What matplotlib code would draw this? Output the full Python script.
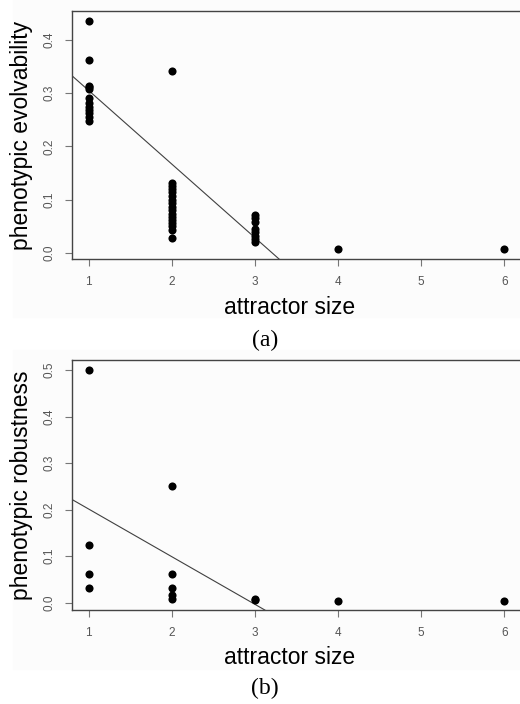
import matplotlib
matplotlib.use("Agg")
import matplotlib.pyplot as plt
from matplotlib.patches import Rectangle

# ----- data ------------------------------------------------------------------
# (a) phenotypic evolvability vs attractor size
evo_x = [1] * 12 + [2] * 17 + [3] * 8 + [4, 6]
evo_y = [0.435, 0.363, 0.314, 0.311, 0.307, 0.291, 0.281, 0.274, 0.268, 0.262, 0.255, 0.248,
         0.342, 0.132, 0.126, 0.120, 0.114, 0.108, 0.100, 0.094, 0.087, 0.080, 0.074, 0.068,
         0.062, 0.056, 0.050, 0.044, 0.028,
         0.072, 0.066, 0.058, 0.045, 0.039, 0.032, 0.026, 0.020,
         0.007, 0.007]
evo_fit = (0.443, -0.138)   # intercept, slope

# (b) phenotypic robustness vs attractor size
rob_x = [1, 1, 1, 1, 2, 2, 2, 2, 2, 3, 3, 4, 6]
rob_y = [0.5, 0.125, 0.0625, 0.03125,
         0.25, 0.0625, 0.03125, 0.015625, 0.0078125,
         0.0078125, 0.0060, 0.0039, 0.0039]
rob_fit = (0.304, -0.1025)

x_ticks = [1, 2, 3, 4, 5, 6]
evo_ticks = [0.0, 0.1, 0.2, 0.3, 0.4]
rob_ticks = [0.0, 0.1, 0.2, 0.3, 0.4, 0.5]

W, H = 520, 704
SANS = ["Liberation Sans", "Arial", "DejaVu Sans"]
SERIF = ["Liberation Serif", "Times New Roman", "DejaVu Serif"]
TICK_C = "#555555"
BOX_C = "#444444"

fig = plt.figure(figsize=(W / 100, H / 100), dpi=100, facecolor="white")

# faint grey backdrop of each pasted R image
for (y0, y1) in [(0, 317), (350, 669)]:
    fig.patches.append(Rectangle((13 / W, 1 - y1 / H), (W - 13) / W, (y1 - y0) / H,
                                 transform=fig.transFigure, color="#FCFCFC", zorder=-5))


def panel(top_px, bot_px, xs, ys, fit, yticks, ylim, ylabel, tag, lab_px, tag_px):
    ax = fig.add_axes([72 / W, 1 - bot_px / H, (521 - 72) / W, (bot_px - top_px) / H])
    ax.set_facecolor("none")
    ax.scatter(xs, ys, s=34, color="black", zorder=3, linewidths=0)
    b0, b1 = fit
    ax.axline((0, b0), slope=b1, color="#404040", lw=0.8, zorder=2)
    ax.set_xlim(0.8, 6.2)
    ax.set_ylim(*ylim)
    ax.set_xticks(x_ticks)
    ax.set_xticklabels([str(t) for t in x_ticks], fontsize=8.5, color=TICK_C, family=SANS)
    ax.set_yticks(yticks)
    ax.set_yticklabels([f"{t:.1f}" for t in yticks], fontsize=8.5, color=TICK_C,
                       family=SANS, rotation=90, va="center")
    ax.tick_params(axis="both", length=5, width=0.8, color="#777777", pad=7)
    ax.spines["right"].set_visible(False)
    for s in ("left", "bottom", "top"):
        ax.spines[s].set_color(BOX_C)
        ax.spines[s].set_linewidth(1.0)
    fig.text(22 / W, 1 - (top_px + bot_px) / 2 / H, ylabel, rotation=90,
             ha="center", va="center", fontsize=16.5, family=SANS, color="black")
    fig.text(290 / W, 1 - lab_px / H, "attractor size",
             ha="center", va="center", fontsize=16.5, family=SANS, color="black")
    fig.text(265 / W, 1 - tag_px / H, tag, ha="center", va="center",
             fontsize=17, family=SERIF, color="black")
    return ax


panel(11, 259, evo_x, evo_y, evo_fit, evo_ticks, (-0.011, 0.454),
      "phenotypic evolvability", "(a)", 308, 340)
panel(360, 610, rob_x, rob_y, rob_fit, rob_ticks, (-0.0157, 0.522),
      "phenotypic robustness", "(b)", 658, 688)

fig.savefig("out.png", dpi=100)
